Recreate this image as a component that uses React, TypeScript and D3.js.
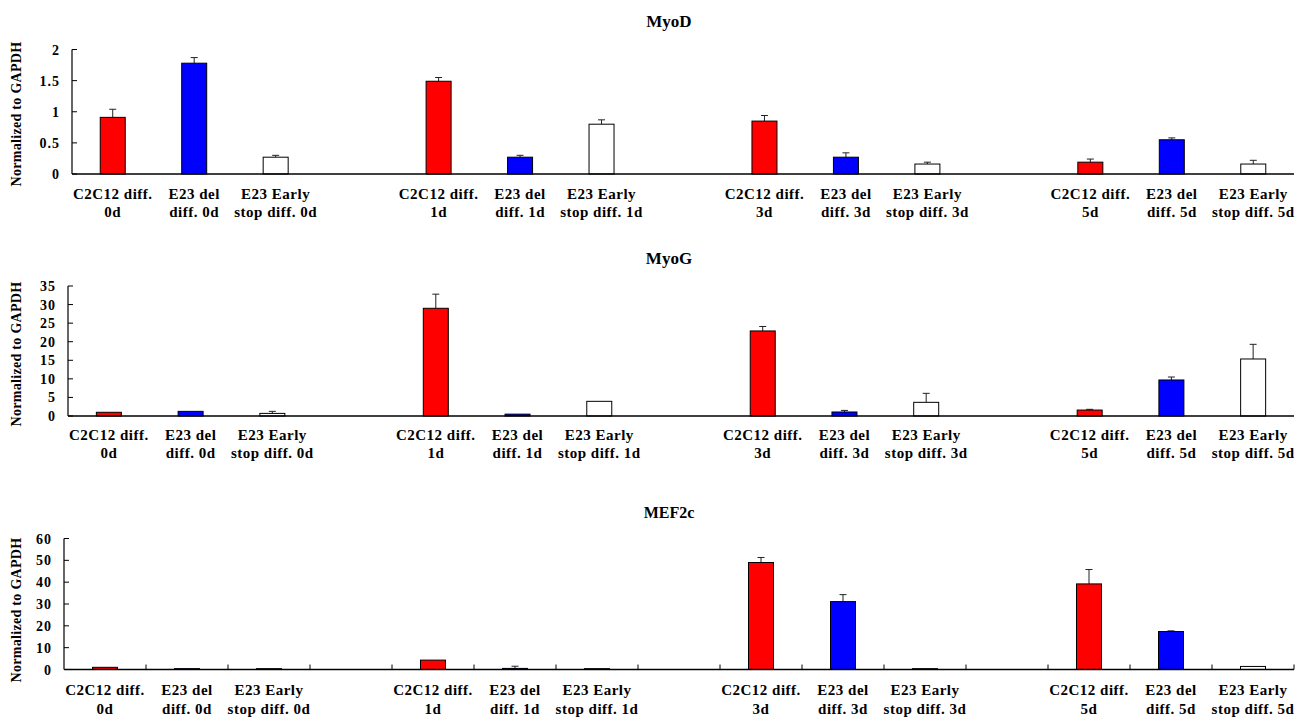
import React from "react";
import * as d3 from "d3";

const groups = ["0d", "1d", "3d", "5d"];
const seriesNames = ["C2C12 diff.", "E23 del diff.", "E23 Early stop diff."];
const seriesColors = ["#ff0000", "#0000ff", "#ffffff"];
// label lines for each series (two lines, group inserted)
const labelLine1 = ["C2C12 diff.", "E23 del", "E23 Early"];
const labelLine2 = (g: string) => [g, `diff. ${g}`, `stop diff. ${g}`];

// values ordered [group][series]
const myodValues = [0.91, 1.78, 0.27, 1.49, 0.27, 0.8, 0.85, 0.27, 0.16, 0.19, 0.55, 0.16];
const myodErrTop = [1.04, 1.87, 0.3, 1.55, 0.3, 0.87, 0.94, 0.34, 0.19, 0.24, 0.58, 0.22];
const myogValues = [1.0, 1.25, 0.7, 29.0, 0.5, 3.95, 22.9, 1.08, 3.68, 1.6, 9.7, 15.35];
const myogErrTop = [1.0, 1.25, 1.25, 32.8, 0.5, 3.95, 24.1, 1.5, 6.1, 1.8, 10.5, 19.3];
const mef2cValues = [1.0, 0.4, 0.4, 4.3, 0.5, 0.4, 49.0, 31.1, 0.4, 39.2, 17.4, 1.4];
const mef2cErrTop = [1.0, 0.4, 0.4, 4.3, 1.5, 0.4, 51.3, 34.3, 0.4, 45.8, 17.7, 1.4];

const myodTicks = [0, 0.5, 1, 1.5, 2];
const myogTicks = [0, 5, 10, 15, 20, 25, 30, 35];
const mef2cTicks = [0, 10, 20, 30, 40, 50, 60];

const yLabel = "Normalized to GAPDH";

type Panel = {
  title: string;
  values: number[];
  errTop: number[];
  ticks: number[];
  max: number;
  axisX: number;
  yTop: number;
  y0: number;
  titleY: number;
  titleSize: number;
  lab1: number;
  lab2: number;
  yLabelY: number;
  xTicks: boolean;
};

const panels: Panel[] = [
  { title: "MyoD", values: myodValues, errTop: myodErrTop, ticks: myodTicks, max: 2, axisX: 72, yTop: 49.5, y0: 174, titleY: 27, titleSize: 17, lab1: 199, lab2: 217, yLabelY: 114, xTicks: false },
  { title: "MyoG", values: myogValues, errTop: myogErrTop, ticks: myogTicks, max: 35, axisX: 68, yTop: 286, y0: 416, titleY: 264, titleSize: 17, lab1: 440, lab2: 458, yLabelY: 354, xTicks: false },
  { title: "MEF2c", values: mef2cValues, errTop: mef2cErrTop, ticks: mef2cTicks, max: 60, axisX: 64, yTop: 538.5, y0: 669.5, titleY: 518, titleSize: 16, lab1: 695, lab2: 714, yLabelY: 610, xTicks: true },
];

const RIGHT = 1294;
const NSLOTS = 15;
const FONT = "'Liberation Serif', 'Times New Roman', serif";

function PanelView({ p }: { p: Panel }) {
  const x = d3.scaleLinear().domain([0, NSLOTS]).range([p.axisX, RIGHT]);
  const y = d3.scaleLinear().domain([0, p.max]).range([p.y0, p.yTop]);
  const slotW = x(1) - x(0);
  const barW = 25;
  const bars: any[] = [];
  groups.forEach((g, gi) => {
    seriesNames.forEach((s, si) => {
      const idx = gi * 3 + si;
      const slot = gi * 4 + si;
      bars.push({ idx, slot, g, si, v: p.values[idx], e: p.errTop[idx] });
    });
  });
  return (
    <g>
      <text x={669} y={p.titleY} textAnchor="middle" fontFamily={FONT} fontWeight="bold" fontSize={p.titleSize}>
        {p.title}
      </text>
      <text
        transform={`translate(20.5,${p.yLabelY}) rotate(-90)`}
        textAnchor="middle"
        fontFamily={FONT}
        fontWeight="bold"
        fontSize={14}
        letterSpacing={0.3}
      >
        {yLabel}
      </text>
      {/* y axis */}
      <line x1={p.axisX} x2={p.axisX} y1={y(p.max)} y2={p.y0} stroke="#000" strokeWidth={1.2} />
      {p.ticks.map((t) => (
        <g key={t}>
          <line x1={p.axisX} x2={p.axisX + 5} y1={y(t)} y2={y(t)} stroke="#000" strokeWidth={1} />
          <text
            x={p.axisX - 12}
            y={y(t)}
            dy="0.36em"
            textAnchor="end"
            fontFamily={FONT}
            fontWeight="bold"
            fontSize={14}
            letterSpacing={1}
          >
            {String(t)}
          </text>
        </g>
      ))}
      {/* bars */}
      {bars.map((b) => {
        const cx = x(b.slot + 0.5);
        return (
          <g key={b.idx}>
            {b.e > b.v && (
              <g>
                <line x1={cx} x2={cx} y1={y(b.v)} y2={y(b.e)} stroke="#222" strokeWidth={1} />
                <line x1={cx - 3.5} x2={cx + 3.5} y1={y(b.e)} y2={y(b.e)} stroke="#222" strokeWidth={1} />
              </g>
            )}
            <rect
              x={cx - barW / 2}
              y={y(b.v)}
              width={barW}
              height={p.y0 - y(b.v)}
              fill={seriesColors[b.si]}
              stroke="#000"
              strokeWidth={1}
            />
            <text x={cx} y={p.lab1} textAnchor="middle" fontFamily={FONT} fontWeight="bold" fontSize={15} letterSpacing={0.5}>
              {labelLine1[b.si]}
            </text>
            <text x={cx} y={p.lab2} textAnchor="middle" fontFamily={FONT} fontWeight="bold" fontSize={15} letterSpacing={0.5}>
              {labelLine2(b.g)[b.si]}
            </text>
          </g>
        );
      })}
      {/* x axis */}
      <line x1={p.axisX} x2={RIGHT} y1={p.y0} y2={p.y0} stroke="#000" strokeWidth={1.5} />
      {p.xTicks &&
        d3.range(1, NSLOTS + 1).map((k) => (
          <line key={k} x1={x(k)} x2={x(k)} y1={p.y0} y2={p.y0 - 5} stroke="#000" strokeWidth={1} />
        ))}
      {slotW < 0 && null}
    </g>
  );
}

export default function App() {
  return (
    <svg width={1309} height={726} style={{ position: "absolute", left: 0, top: 0, background: "#fff" }}>
      <rect width={1309} height={726} fill="#fff" />
      {panels.map((p) => (
        <PanelView key={p.title} p={p} />
      ))}
    </svg>
  );
}
